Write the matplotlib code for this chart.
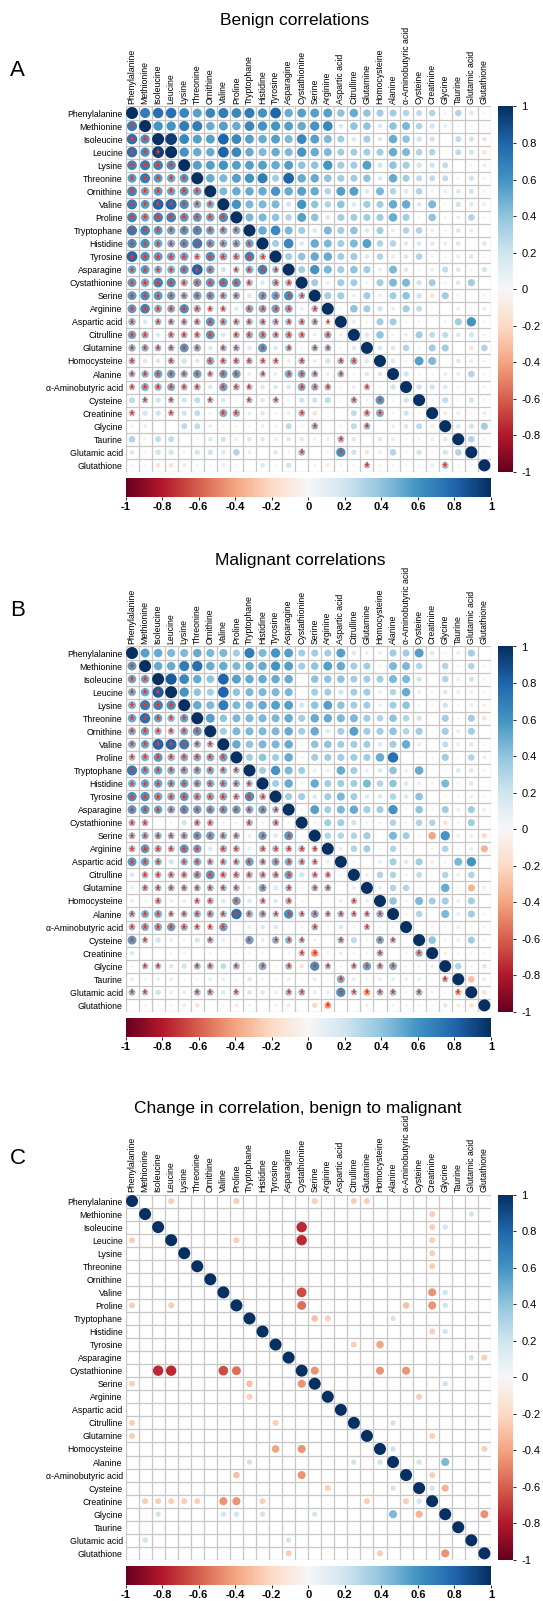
import numpy as np
import matplotlib
import matplotlib.pyplot as plt
from matplotlib.patches import Circle
from matplotlib.colors import Normalize
from matplotlib.colorbar import ColorbarBase

plt.rcParams['font.family'] = ['Liberation Sans', 'DejaVu Sans']

# Namen der Aminosäuren (Zeilen und Spalten)
labels = ["Phenylalanine", "Methionine", "Isoleucine", "Leucine", "Lysine", "Threonine",
          "Ornithine", "Valine", "Proline", "Tryptophane", "Histidine", "Tyrosine",
          "Asparagine", "Cystathionine", "Serine", "Arginine", "Aspartic acid", "Citrulline",
          "Glutamine", "Homocysteine", "Alanine", "α-Aminobutyric acid", "Cysteine",
          "Creatinine", "Glycine", "Taurine", "Glutamic acid", "Glutathione"]

# Untere Dreiecksmatrix, Korrelation x100, Zeile i hat i Werte
benign_lower = [
    [70],
    [75, 60],
    [75, 60, 95],
    [65, 70, 65, 60],
    [55, 70, 55, 50, 55],
    [65, 50, 55, 50, 55, 50],
    [70, 55, 80, 80, 60, 45, 45],
    [65, 50, 65, 65, 55, 55, 50, 60],
    [70, 65, 55, 50, 55, 60, 50, 45, 45],
    [60, 60, 50, 45, 55, 70, 50, 45, 45, 50],
    [80, 60, 55, 50, 50, 35, 60, 45, 40, 65, 35],
    [50, 55, 45, 45, 55, 80, 50, 20, 30, 45, 65, 35],
    [55, 50, 65, 60, 40, 50, 55, 60, 55, 35, 15, 40, 35],
    [55, 60, 55, 50, 40, 50, 50, 40, 40, 15, 50, 50, 60, 35],
    [55, 65, 45, 45, 60, 40, 30, 30, 15, 45, 45, 50, 45, 10, 35],
    [40, 15, 35, 35, 35, 35, 55, 40, 35, 35, 35, 35, 35, 35, 35, 5],
    [50, 40, 15, 35, 35, 35, 55, 15, 35, 40, 45, 35, 40, 35, 10, 40, 10],
    [40, 40, 35, 35, 55, 40, 15, 35, 35, 15, 55, 15, 35, 5, 35, 35, 5, 15],
    [35, 15, 15, 35, 20, 15, 45, 35, 35, 35, 30, 30, 10, 35, 10, 20, 35, 40, 15],
    [35, 40, 50, 50, 40, 50, 30, 50, 50, 10, 30, 10, 45, 45, 35, 10, 35, 5, 15, 15],
    [30, 45, 40, 45, 35, 35, 15, 50, 35, 30, 15, 15, 15, 45, 40, 35, 5, 10, 30, 5, 20],
    [25, 30, 20, 30, 20, 25, 30, 15, 5, 30, 15, 30, 5, 20, 20, 25, 5, 35, 5, 55, -5, 20],
    [30, 20, 20, 30, 20, 25, 5, 45, 40, 10, 15, 5, 10, 35, -15, 5, 0, 25, 35, 45, 5, 20, 5],
    [5, 10, 0, 0, 25, 25, 10, -5, 5, 5, 10, 5, 25, 5, 35, 0, 5, 25, 35, 0, 10, 15, 25, -10],
    [30, 5, 25, 25, 0, 5, 15, 20, 10, 15, 15, 10, 15, 15, 5, 10, 35, 15, 0, 15, 10, -5, 5, 10, 15],
    [15, -5, 20, 20, 5, 20, 20, 15, 30, 10, 0, 15, 5, 35, 0, -5, 60, 20, -15, 10, 30, -5, 20, -5, 20, 30],
    [5, 5, -15, -15, 10, 5, 5, -10, 5, 0, 15, 5, 20, 0, 5, -10, 5, 5, 30, 5, 5, 5, 5, 10, 35, 5, 5],
]
benign_sig = [
    "*", "**", "***", "****", "*****", "******", "*******", "********", "*********",
    "**********", "***********", "*******.****", "**********.**", "*********.****",
    "********.****.*", "*.**************.", "**.****.******.*.", "******.**.*.*.**..",
    "*..*..******.*..**.", "*********.*.***.*...", "******.***...***..*..",
    ".*.*..*..*.*.....*.*..", "*..*...**....*....**...", "..............*...*.....",
    "................*........", ".............*..*.........", "..................*.....*..",
]

malignant_lower = [
    [55],
    [50, 50],
    [45, 50, 85],
    [45, 70, 65, 60],
    [50, 75, 50, 40, 50],
    [45, 50, 40, 35, 45, 55],
    [45, 50, 80, 80, 70, 40, 35],
    [35, 45, 55, 40, 45, 45, 45, 50],
    [70, 50, 50, 45, 45, 45, 45, 40, 35],
    [45, 50, 50, 45, 50, 45, 45, 45, 40, 35],
    [60, 60, 50, 45, 55, 45, 45, 45, 35, 60, 35],
    [55, 55, 50, 45, 55, 50, 50, 50, 50, 45, 50, 35],
    [35, 35, 0, -5, 20, 35, 35, 5, 5, 35, 5, 35, 5],
    [35, 40, 40, 35, 40, 50, 50, 40, 35, 10, 50, 15, 55, -5],
    [35, 55, 40, 35, 55, 50, 15, 40, 35, 10, 35, 35, 35, 35, 30],
    [55, 50, 40, 20, 40, 45, 35, 35, 35, 50, 35, 45, 45, 35, 30, 10],
    [15, 35, 35, 35, 35, 45, 55, 35, 35, 35, 35, 35, 50, 20, 30, 30, 5],
    [10, 35, 35, 35, 35, 35, 35, 35, 35, 10, 45, 15, 35, 5, 35, 35, 0, 10],
    [10, 5, 35, 10, 10, 30, 35, 15, 50, 15, 30, 15, 35, 5, 0, 5, 10, 30, 10],
    [35, 45, 45, 30, 35, 40, 40, 35, 75, 40, 40, 30, 60, 30, 45, 30, 35, 30, 30, 40],
    [35, 45, 45, 50, 40, 30, 30, 50, 0, 10, 15, 15, 5, 5, 35, 5, 15, 5, 30, 5, 5],
    [55, 30, 20, 10, 5, 20, 35, 10, 5, 50, 10, 40, 40, 30, 5, 0, 35, 25, 5, 45, 30, 0],
    [15, 0, 0, 5, -5, 0, 5, 0, 5, 5, -5, 0, 5, 30, -40, 5, -10, 5, 5, 35, 0, -5, 40],
    [5, 30, 30, 15, 20, 35, 35, 25, 35, 5, 45, -5, 35, -15, 60, 30, 5, 30, 50, 35, 45, 5, 5, -10],
    [10, 5, 10, 10, 5, 5, 10, 10, 5, 15, 5, 5, 10, 5, 10, 5, 45, 10, 5, 10, 10, 10, 10, 5, 30],
    [35, 30, 20, 10, 10, 35, 35, 15, 30, 15, 15, 10, 35, 35, 10, 10, 60, 30, -35, 35, 35, 5, 35, 5, 5, -30],
    [0, -5, -5, -5, -10, -15, 0, -5, -10, 5, 0, 5, -10, 0, -20, -35, 0, 0, -10, 0, 5, 5, 5, 5, 15, -10, -15],
]
malignant_sig = [
    "*", "**", "***", "****", "*****", "******", "*******", "********", "*********",
    "**********", "***********", "************", "**...**..*.*.", "*********.*.*.",
    "******.**.*****", "***.***********.", ".************.**.", ".********.*.*.**..",
    "..*..**.*.*.*....*.", "********************", "********......*...*..",
    "**....*..*.***..*..**.", ".............**....*..*", ".**..**.*.*.*.**.****...",
    "................*.......*", "**...**.*...**..*****.*..*", "...............*...........",
]

# Änderung der Korrelation (nur signifikante Zellen), untere Dreiecksmatrix
change_row = [3, 8, 8, 13, 13, 13, 13, 14, 14, 14, 15, 17, 17, 18, 19, 19, 20, 20, 20,
              21, 21, 22, 22, 23, 23, 23, 23, 23, 23, 23, 23, 23, 23, 23, 24, 24, 24, 24,
              24, 24, 24, 26, 26, 27, 27, 27]
change_col = [0, 0, 3, 2, 3, 7, 8, 0, 9, 13, 9, 0, 11, 0, 11, 13, 9, 17, 19,
              8, 13, 15, 20, 1, 2, 3, 4, 5, 7, 8, 10, 18, 21, 22, 2, 7, 8, 10,
              14, 20, 22, 1, 12, 12, 19, 24]
change_val = [-25, -25, -25, -75, -75, -65, -55, -25, -30, -45, -25, -25, -25, -25, -40, -45, 20, 20, 20,
              -30, -45, -25, 20, -25, -25, -25, -25, -25, -45, -45, -25, -25, -25, 20, 20, 20, 20, 20,
              20, 45, -35, 20, 20, -25, -25, -45]

W, H = 543, 1601
n = len(labels)
cmap = matplotlib.colormaps['RdBu']
norm = Normalize(-1, 1)
ticks = np.linspace(-1, 1, 11)
tick_labels = [f"{round(t, 1):g}" for t in ticks]


def full_matrix(lower):
    m = np.eye(n)
    for i, row in enumerate(lower):
        for j, v in enumerate(row):
            m[i + 1, j] = v / 100.0
            m[j, i + 1] = v / 100.0
    return m


def sig_matrix(sig):
    s = np.zeros((n, n), dtype=bool)
    for i, row in enumerate(sig):
        for j, c in enumerate(row):
            s[i + 1, j] = c == '*'
    return s


def change_matrix():
    m = np.eye(n)
    for i, j, v in zip(change_row, change_col, change_val):
        m[i, j] = v / 100.0
        m[j, i] = v / 100.0
    return m


def px_axes(fig, x0, y0, x1, y1):
    return fig.add_axes([x0 / W, 1 - y1 / H, (x1 - x0) / W, (y1 - y0) / H])


def draw_panel(fig, top, mat, sig, title, letter, title_x):
    x0, cell = 125.5, 13.05
    y0 = top
    ax = px_axes(fig, x0, y0, x0 + n * cell, y0 + n * cell)
    ax.set_xlim(-0.5, n - 0.5)
    ax.set_ylim(n - 0.5, -0.5)
    for k in range(n + 1):
        ax.plot([k - 0.5, k - 0.5], [-0.5, n - 0.5], color='#c9c6c6', lw=0.9, zorder=1)
        ax.plot([-0.5, n - 0.5], [k - 0.5, k - 0.5], color='#c9c6c6', lw=0.9, zorder=1)
    for i in range(n):
        for j in range(n):
            v = mat[i, j]
            if v == 0:
                continue
            ax.add_patch(Circle((j, i), 0.46 * np.sqrt(abs(v)), facecolor=cmap(norm(v)),
                                edgecolor='none', zorder=2))
    if sig is not None:
        yy, xx = np.nonzero(sig)
        ax.plot(xx, yy, linestyle='none', marker='*', color='#e5382b', markersize=5.2,
                markeredgewidth=0, zorder=3)
    for s in ax.spines.values():
        s.set_visible(False)
    ax.xaxis.tick_top()
    ax.set_xticks(range(n))
    ax.set_xticklabels(labels, rotation=90, fontsize=6.3)
    ax.set_yticks(range(n))
    ax.set_yticklabels(labels, fontsize=6.3)
    ax.tick_params(length=0, pad=2)

    # senkrechter Farbbalken rechts
    cax = px_axes(fig, 498, y0, 513, y0 + n * cell)
    cb = ColorbarBase(cax, cmap=cmap, norm=norm, orientation='vertical', ticks=ticks)
    cb.set_ticklabels(tick_labels)
    cb.outline.set_visible(False)
    cax.tick_params(labelsize=8, length=2, width=0.6, pad=4)

    # waagerechter Farbbalken unten
    hax = px_axes(fig, x0, y0 + n * cell + 6, x0 + n * cell, y0 + n * cell + 25)
    hb = ColorbarBase(hax, cmap=cmap, norm=norm, orientation='horizontal', ticks=ticks)
    hb.set_ticklabels(tick_labels)
    hb.outline.set_visible(False)
    hax.tick_params(labelsize=8, length=2, width=0.6, pad=2)
    for t in hax.get_xticklabels():
        t.set_fontweight('bold')

    fig.text(title_x / W, 1 - (top - 86) / H, title, fontsize=12.5, ha='center', va='center')
    fig.text(10 / W, 1 - (top - 36) / H, letter, fontsize=16, ha='left', va='center')


fig = plt.figure(figsize=(W / 100, H / 100), dpi=100)
draw_panel(fig, 106.5, full_matrix(benign_lower), sig_matrix(benign_sig),
           "Benign correlations", "A", 295)
draw_panel(fig, 646.5, full_matrix(malignant_lower), sig_matrix(malignant_sig),
           "Malignant correlations", "B", 300)
draw_panel(fig, 1194.5, change_matrix(), None,
           "Change in correlation, benign to malignant", "C", 298)
fig.savefig("out.png", dpi=100)
